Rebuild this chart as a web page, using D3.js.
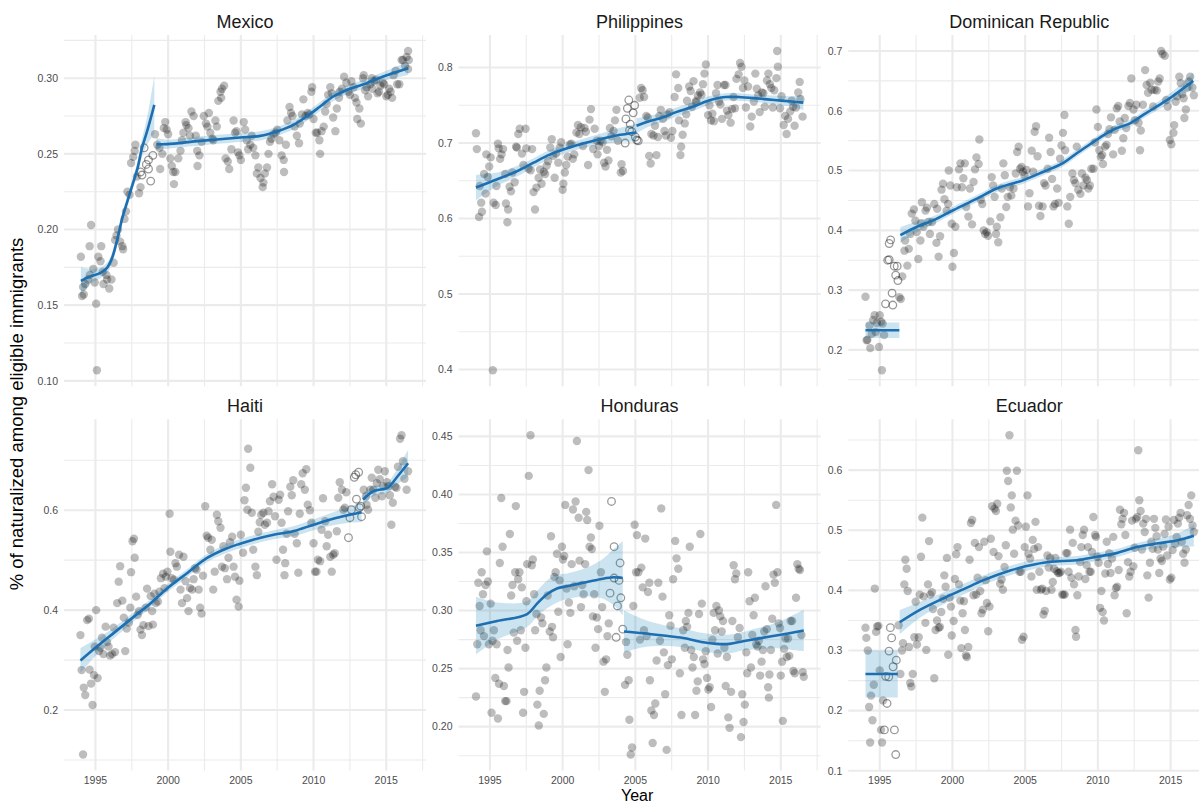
<!DOCTYPE html>
<html>
<head>
<meta charset="utf-8">
<script src="https://cdn.jsdelivr.net/npm/d3@7"></script>
<style>
  body { margin: 0; background: #fff; }
  svg { display: block; }
  text { font-family: "Liberation Sans", Arial, Helvetica, sans-serif; }
</style>
</head>
<body>
<svg id="chart" width="1199" height="804"></svg>
<script>
// ---- data -------------------------------------------------------------
const countries = ["Mexico", "Philippines", "Dominican Republic", "Haiti", "Honduras", "Ecuador"];
const xTicks = [1995, 2000, 2005, 2010, 2015];

const mexicoTicks = [0.10, 0.15, 0.20, 0.25, 0.30];
const philippinesTicks = [0.4, 0.5, 0.6, 0.7, 0.8];
const dominicanTicks = [0.2, 0.3, 0.4, 0.5, 0.6, 0.7];
const haitiTicks = [0.2, 0.4, 0.6];
const hondurasTicks = [0.20, 0.25, 0.30, 0.35, 0.40, 0.45];
const ecuadorTicks = [0.1, 0.2, 0.3, 0.4, 0.5, 0.6];

// [year, share naturalized] — observed
const mexicoPoints = [[1994.0,0.182],[1994.08,0.156],[1994.15,0.162],[1994.2,0.157],[1994.3,0.164],[1994.47,0.167],[1994.6,0.189],[1994.62,0.170],[1994.7,0.203],[1994.85,0.174],[1994.95,0.165],[1995.05,0.151],[1995.1,0.107],[1995.2,0.182],[1995.35,0.179],[1995.4,0.189],[1995.5,0.172],[1995.55,0.164],[1995.75,0.170],[1995.8,0.167],[1995.95,0.161],[1996.1,0.167],[1996.25,0.178],[1996.35,0.193],[1996.45,0.196],[1996.55,0.200],[1996.7,0.192],[1996.85,0.189],[1996.9,0.187],[1997.0,0.207],[1997.1,0.212],[1997.2,0.225],[1997.35,0.223],[1997.45,0.244],[1997.6,0.248],[1997.7,0.252],[1997.75,0.256],[1997.85,0.235],[1998.0,0.224],[1998.1,0.228],
[1999.1,0.263],[1999.25,0.256],[1999.4,0.254],[1999.45,0.240],[1999.6,0.250],[1999.7,0.267],[1999.8,0.271],[1999.9,0.266],[2000.0,0.263],[2000.15,0.247],[2000.25,0.242],[2000.35,0.238],[2000.4,0.230],[2000.5,0.238],[2000.7,0.247],[2000.85,0.252],[2000.95,0.259],[2001.05,0.264],[2001.2,0.271],[2001.25,0.269],[2001.4,0.267],[2001.5,0.262],[2001.6,0.278],[2001.75,0.275],[2001.9,0.262],[2002.0,0.252],[2002.02,0.242],[2002.15,0.249],[2002.3,0.258],[2002.45,0.275],[2002.6,0.270],[2002.7,0.268],[2002.8,0.277],[2002.9,0.264],[2003.05,0.260],[2003.1,0.259],[2003.25,0.272],[2003.35,0.268],[2003.45,0.285],[2003.6,0.291],[2003.65,0.287],[2003.7,0.293],[2003.85,0.295],[2003.95,0.247],[2004.1,0.245],[2004.2,0.240],[2004.35,0.253],[2004.5,0.272],[2004.6,0.264],[2004.7,0.265],[2004.8,0.251],[2004.9,0.249],[2005.0,0.246],[2005.2,0.271],[2005.3,0.266],[2005.4,0.259],[2005.5,0.253],[2005.65,0.256],[2005.75,0.262],[2005.85,0.254],[2006.0,0.249],[2006.1,0.237],[2006.2,0.241],[2006.35,0.234],[2006.5,0.228],[2006.55,0.231],[2006.65,0.237],[2006.8,0.241],[2006.9,0.250],[2007.0,0.258],[2007.1,0.260],[2007.25,0.263],[2007.4,0.264],[2007.5,0.266],[2007.65,0.259],[2007.8,0.249],[2007.95,0.246],[2007.97,0.238],[2008.1,0.256],[2008.2,0.272],[2008.35,0.281],[2008.45,0.277],[2008.55,0.275],[2008.7,0.268],[2008.85,0.262],[2009.0,0.257],[2009.05,0.270],[2009.2,0.276],[2009.3,0.286],[2009.45,0.275],[2009.6,0.277],[2009.7,0.276],[2009.85,0.291],[2009.9,0.294],[2010.0,0.273],[2010.15,0.264],[2010.25,0.264],[2010.4,0.259],[2010.45,0.250],[2010.55,0.265],[2010.7,0.268],[2010.8,0.278],[2010.9,0.283],[2011.0,0.289],[2011.15,0.294],[2011.25,0.290],[2011.35,0.274],[2011.5,0.265],[2011.6,0.280],[2011.75,0.287],[2011.8,0.291],[2011.95,0.293],[2012.1,0.301],[2012.25,0.297],[2012.4,0.291],[2012.5,0.289],[2012.6,0.298],[2012.75,0.294],[2012.85,0.287],[2012.95,0.284],[2013.0,0.273],[2013.15,0.280],[2013.25,0.270],[2013.4,0.300],[2013.45,0.302],[2013.55,0.292],[2013.65,0.294],[2013.75,0.288],[2013.9,0.296],[2014.0,0.300],[2014.05,0.293],[2014.15,0.298],[2014.3,0.299],[2014.4,0.290],[2014.5,0.291],[2014.6,0.295],[2014.75,0.297],[2014.85,0.296],[2015.0,0.288],[2015.1,0.289],[2015.2,0.293],[2015.3,0.291],[2015.4,0.287],[2015.5,0.302],[2015.65,0.305],[2015.75,0.296],[2015.9,0.296],[2016.05,0.312],[2016.15,0.312],[2016.3,0.308],[2016.4,0.314],[2016.5,0.318],[2016.55,0.312],[2016.5,0.306]];
// [year, share] — imputed months
const mexicoOpen = [[1998.1,0.238],[1998.2,0.236],[1998.35,0.254],[1998.5,0.243],[1998.65,0.240],[1998.65,0.246],[1998.8,0.232],[1998.95,0.249]];
// loess fit per period: [year, fit, standard-error band]
const mexicoFit = [
  [[1994.0,0.166,0.009],[1994.65,0.169,0.005],[1995.35,0.1714,0.0035],[1995.8,0.1747,0.0035],[1996.15,0.1813,0.0035],[1996.5,0.1934,0.0035],[1996.85,0.2077,0.0035],[1997.2,0.2187,0.0035],[1997.55,0.2297,0.0035],[1997.9,0.2407,0.0045],[1998.2,0.2539,0.006],[1998.55,0.2648,0.009],[1999.05,0.2824,0.019]],
  [[1999.19,0.2564,0.004],[1999.92,0.2564,0.003],[2002.21,0.2586,0.003],[2004.95,0.2608,0.003],[2006.33,0.2619,0.003],[2007.47,0.2648,0.003],[2008.62,0.2692,0.003],[2009.53,0.2747,0.003],[2010.45,0.2813,0.003],[2011.36,0.2879,0.003],[2012.51,0.293,0.003],[2013.65,0.2967,0.003],[2014.79,0.3011,0.003],[2016.51,0.3066,0.0045]]
];

const philippinesPoints = [[1994.04,0.713],[1994.1,0.692],[1994.25,0.602],[1994.3,0.643],[1994.4,0.621],[1994.45,0.609],[1994.6,0.659],[1994.7,0.633],[1994.75,0.685],[1994.85,0.655],[1994.95,0.669],[1995.05,0.681],[1995.2,0.399],[1995.25,0.621],[1995.4,0.618],[1995.45,0.643],[1995.55,0.699],[1995.6,0.693],[1995.7,0.679],[1995.8,0.685],[1995.9,0.692],[1996.05,0.659],[1996.1,0.620],[1996.2,0.595],[1996.25,0.612],[1996.35,0.642],[1996.45,0.636],[1996.55,0.661],[1996.7,0.648],[1996.8,0.695],[1996.85,0.694],[1996.95,0.712],[1997.05,0.719],[1997.2,0.686],[1997.3,0.671],[1997.45,0.719],[1997.5,0.693],[1997.65,0.666],[1997.8,0.664],[1997.9,0.692],[1998.0,0.635],[1998.1,0.612],[1998.2,0.641],[1998.35,0.654],[1998.45,0.665],[1998.55,0.646],[1998.7,0.662],[1998.8,0.659],[1998.9,0.670],[1999.0,0.676],[1999.15,0.694],[1999.25,0.705],[1999.35,0.683],[1999.45,0.654],[1999.55,0.686],[1999.7,0.674],[1999.8,0.694],[1999.9,0.701],[2000.0,0.638],[2000.05,0.646],[2000.15,0.661],[2000.25,0.671],[2000.35,0.682],[2000.5,0.698],[2000.6,0.699],[2000.7,0.679],[2000.8,0.685],[2000.95,0.714],[2001.05,0.724],[2001.15,0.712],[2001.25,0.721],[2001.4,0.696],[2001.5,0.720],[2001.6,0.715],[2001.75,0.671],[2001.85,0.731],[2001.95,0.745],[2002.1,0.692],[2002.2,0.719],[2002.35,0.703],[2002.4,0.685],[2002.5,0.696],[2002.6,0.703],[2002.75,0.701],[2002.85,0.674],[2002.95,0.669],[2003.05,0.691],[2003.15,0.677],[2003.25,0.720],[2003.35,0.709],[2003.5,0.716],[2003.6,0.730],[2003.7,0.744],[2003.8,0.703],[2004.0,0.661],[2004.05,0.672],[2004.15,0.663],
[2005.3,0.760],[2005.4,0.773],[2005.5,0.770],[2005.6,0.761],[2005.75,0.736],[2005.85,0.734],[2005.95,0.683],[2006.05,0.673],[2006.1,0.712],[2006.25,0.710],[2006.35,0.723],[2006.45,0.684],[2006.55,0.708],[2006.65,0.736],[2006.75,0.744],[2006.9,0.732],[2007.0,0.716],[2007.1,0.710],[2007.2,0.738],[2007.35,0.741],[2007.45,0.707],[2007.55,0.716],[2007.7,0.761],[2007.8,0.791],[2007.95,0.773],[2008.0,0.730],[2008.1,0.684],[2008.15,0.695],[2008.25,0.711],[2008.4,0.726],[2008.5,0.738],[2008.55,0.756],[2008.7,0.775],[2008.8,0.769],[2008.9,0.748],[2009.0,0.782],[2009.15,0.754],[2009.2,0.756],[2009.3,0.763],[2009.45,0.767],[2009.55,0.764],[2009.65,0.778],[2009.75,0.792],[2009.85,0.804],[2010.0,0.737],[2010.1,0.750],[2010.2,0.730],[2010.3,0.739],[2010.4,0.729],[2010.55,0.766],[2010.65,0.777],[2010.75,0.755],[2010.85,0.751],[2010.95,0.732],[2011.1,0.777],[2011.2,0.777],[2011.3,0.743],[2011.4,0.737],[2011.55,0.727],[2011.65,0.745],[2011.75,0.761],[2011.85,0.746],[2011.95,0.785],[2012.1,0.791],[2012.2,0.806],[2012.3,0.801],[2012.4,0.773],[2012.5,0.783],[2012.6,0.747],[2012.75,0.775],[2012.9,0.722],[2013.0,0.735],[2013.15,0.755],[2013.25,0.792],[2013.35,0.772],[2013.45,0.763],[2013.55,0.741],[2013.7,0.767],[2013.8,0.766],[2013.9,0.748],[2014.05,0.783],[2014.15,0.792],[2014.25,0.778],[2014.35,0.773],[2014.45,0.747],[2014.55,0.770],[2014.7,0.786],[2014.75,0.822],[2014.8,0.801],[2014.95,0.746],[2015.05,0.762],[2015.2,0.724],[2015.3,0.736],[2015.4,0.712],[2015.5,0.732],[2015.65,0.742],[2015.75,0.756],[2015.85,0.748],[2015.95,0.723],[2016.05,0.747],[2016.2,0.767],[2016.3,0.781],[2016.35,0.758],[2016.5,0.735]];
const philippinesOpen = [[2004.3,0.700],[2004.35,0.732],[2004.45,0.746],[2004.55,0.757],[2004.6,0.717],[2004.65,0.725],[2004.75,0.715],[2004.85,0.740],[2004.95,0.750],[2005.0,0.708],[2005.1,0.704],[2005.2,0.703]];
const philippinesFit = [
  [[1994.04,0.641,0.017],[1995.5,0.652,0.009],[1997.0,0.664,0.007],[1998.0,0.674,0.006],[1999.15,0.685,0.006],[2000.97,0.697,0.006],[2002.34,0.704,0.007],[2003.71,0.710,0.009],[2005.08,0.714,0.012]],
  [[2005.08,0.723,0.010],[2005.95,0.729,0.007],[2006.9,0.734,0.006],[2007.8,0.741,0.006],[2008.95,0.748,0.006],[2009.85,0.755,0.006],[2010.55,0.759,0.005],[2011.2,0.761,0.005],[2012.1,0.761,0.005],[2013.45,0.759,0.005],[2014.55,0.757,0.006],[2015.75,0.755,0.007],[2016.55,0.7535,0.010]]
];

const dominicanPoints = [[1994.02,0.289],[1994.1,0.216],[1994.15,0.217],[1994.3,0.241],[1994.35,0.203],[1994.45,0.227],[1994.55,0.250],[1994.65,0.258],[1994.72,0.230],[1994.8,0.245],[1994.95,0.205],[1995.0,0.258],[1995.1,0.247],[1995.15,0.166],[1995.2,0.244],[1995.3,0.225],
[1996.35,0.288],[1996.45,0.285],[1996.55,0.323],[1996.7,0.366],[1996.75,0.383],[1996.9,0.341],[1997.0,0.369],[1997.1,0.394],[1997.2,0.428],[1997.35,0.435],[1997.45,0.416],[1997.55,0.397],[1997.65,0.352],[1997.8,0.383],[1997.85,0.412],[1997.9,0.447],[1998.0,0.406],[1998.15,0.433],[1998.25,0.438],[1998.35,0.414],[1998.45,0.394],[1998.6,0.414],[1998.75,0.444],[1998.9,0.379],[1998.95,0.436],[1999.05,0.356],[1999.15,0.390],[1999.25,0.468],[1999.35,0.478],[1999.45,0.452],[1999.6,0.433],[1999.7,0.444],[1999.75,0.500],[1999.85,0.475],[1999.95,0.411],[2000.0,0.339],[2000.1,0.362],[2000.2,0.406],[2000.3,0.472],[2000.45,0.502],[2000.55,0.512],[2000.65,0.472],[2000.75,0.487],[2000.85,0.512],[2000.95,0.439],[2001.1,0.423],[2001.2,0.470],[2001.35,0.410],[2001.45,0.481],[2001.55,0.502],[2001.65,0.522],[2001.8,0.511],[2001.85,0.552],[2001.95,0.451],[2002.05,0.444],[2002.15,0.400],[2002.25,0.394],[2002.35,0.397],[2002.45,0.391],[2002.6,0.415],[2002.7,0.489],[2002.8,0.475],[2002.9,0.456],[2003.0,0.394],[2003.05,0.406],[2003.15,0.380],[2003.3,0.422],[2003.4,0.470],[2003.5,0.512],[2003.6,0.492],[2003.7,0.439],[2003.8,0.456],[2003.95,0.472],[2004.05,0.458],[2004.2,0.470],[2004.35,0.495],[2004.45,0.531],[2004.55,0.540],[2004.65,0.503],[2004.75,0.506],[2004.85,0.498],[2004.95,0.492],[2005.1,0.501],[2005.2,0.440],[2005.3,0.462],[2005.45,0.533],[2005.55,0.498],[2005.65,0.565],[2005.75,0.574],[2005.85,0.524],[2005.95,0.441],[2006.05,0.424],[2006.2,0.440],[2006.3,0.479],[2006.4,0.475],[2006.55,0.503],[2006.65,0.555],[2006.75,0.531],[2006.85,0.486],[2006.95,0.440],[2007.05,0.444],[2007.2,0.470],[2007.3,0.446],[2007.4,0.520],[2007.5,0.542],[2007.6,0.563],[2007.7,0.593],[2007.75,0.534],[2007.9,0.440],[2008.0,0.411],[2008.1,0.456],[2008.25,0.495],[2008.35,0.484],[2008.45,0.479],[2008.55,0.540],[2008.65,0.468],[2008.8,0.461],[2008.9,0.495],[2009.0,0.475],[2009.15,0.488],[2009.25,0.484],[2009.35,0.470],[2009.45,0.475],[2009.55,0.503],[2009.7,0.503],[2009.8,0.547],[2009.9,0.602],[2010.0,0.573],[2010.1,0.534],[2010.2,0.523],[2010.3,0.526],[2010.35,0.511],[2010.5,0.540],[2010.6,0.543],[2010.7,0.561],[2010.8,0.569],[2010.9,0.589],[2011.05,0.527],[2011.15,0.568],[2011.3,0.604],[2011.4,0.608],[2011.5,0.582],[2011.65,0.533],[2011.75,0.554],[2011.85,0.588],[2011.95,0.571],[2012.1,0.608],[2012.2,0.613],[2012.3,0.654],[2012.45,0.602],[2012.55,0.584],[2012.65,0.610],[2012.8,0.580],[2012.9,0.534],[2012.95,0.567],[2013.1,0.610],[2013.25,0.668],[2013.35,0.643],[2013.45,0.630],[2013.6,0.647],[2013.7,0.635],[2013.8,0.607],[2013.9,0.635],[2014.05,0.634],[2014.15,0.649],[2014.25,0.654],[2014.35,0.700],[2014.45,0.695],[2014.6,0.692],[2014.7,0.618],[2014.8,0.607],[2014.95,0.551],[2015.05,0.544],[2015.2,0.563],[2015.25,0.576],[2015.35,0.615],[2015.45,0.624],[2015.6,0.657],[2015.7,0.646],[2015.8,0.628],[2015.9,0.621],[2015.95,0.588],[2016.05,0.602],[2016.15,0.639],[2016.25,0.649],[2016.35,0.657],[2016.5,0.639],[2016.6,0.626]];
const dominicanOpen = [[1995.4,0.277],[1995.55,0.350],[1995.65,0.351],[1995.65,0.378],[1995.75,0.384],[1995.85,0.295],[1995.9,0.275],[1996.0,0.340],[1996.1,0.325],[1996.2,0.340],[1996.25,0.316]];
const dominicanFit = [
  [[1994.02,0.233,0.013],[1996.35,0.233,0.013]],
  [[1996.42,0.392,0.013],[1997.56,0.406,0.009],[1998.71,0.417,0.007],[2000.08,0.434,0.006],[2001.68,0.453,0.006],[2003.05,0.470,0.006],[2004.89,0.484,0.006],[2006.26,0.498,0.006],[2007.63,0.513,0.006],[2008.55,0.529,0.006],[2009.46,0.544,0.006],[2010.38,0.559,0.006],[2011.29,0.571,0.006],[2012.21,0.579,0.006],[2013.12,0.593,0.006],[2014.04,0.607,0.007],[2014.95,0.621,0.008],[2015.87,0.6375,0.010],[2016.56,0.650,0.014]]
];

const haitiPoints = [[1993.97,0.350],[1994.05,0.280],[1994.15,0.111],[1994.2,0.245],[1994.3,0.230],[1994.43,0.380],[1994.55,0.383],[1994.6,0.281],[1994.7,0.253],[1994.8,0.210],[1994.9,0.270],[1994.95,0.327],[1995.05,0.400],[1995.15,0.264],[1995.25,0.318],[1995.35,0.325],[1995.45,0.345],[1995.55,0.312],[1995.7,0.367],[1995.8,0.336],[1995.9,0.327],[1996.0,0.309],[1996.15,0.312],[1996.25,0.365],[1996.35,0.316],[1996.5,0.414],[1996.6,0.457],[1996.7,0.488],[1996.85,0.419],[1996.95,0.385],[1997.05,0.318],[1997.15,0.363],[1997.3,0.375],[1997.4,0.405],[1997.45,0.476],[1997.55,0.538],[1997.65,0.543],[1997.7,0.505],[1997.8,0.427],[1997.9,0.390],[1998.0,0.398],[1998.1,0.361],[1998.2,0.350],[1998.3,0.370],[1998.45,0.405],[1998.55,0.443],[1998.65,0.368],[1998.8,0.428],[1998.9,0.398],[1998.95,0.371],[1999.05,0.433],[1999.15,0.414],[1999.3,0.417],[1999.4,0.437],[1999.5,0.464],[1999.65,0.473],[1999.75,0.444],[1999.85,0.467],[1999.95,0.477],[2000.1,0.593],[2000.15,0.517],[2000.25,0.464],[2000.4,0.461],[2000.5,0.494],[2000.6,0.487],[2000.75,0.511],[2000.85,0.441],[2000.95,0.414],[2001.05,0.507],[2001.2,0.458],[2001.3,0.424],[2001.4,0.398],[2001.5,0.444],[2001.65,0.441],[2001.75,0.462],[2001.85,0.484],[2001.95,0.481],[2002.1,0.441],[2002.2,0.405],[2002.3,0.393],[2002.4,0.469],[2002.55,0.608],[2002.65,0.549],[2002.75,0.545],[2002.9,0.521],[2003.0,0.541],[2003.1,0.441],[2003.2,0.477],[2003.35,0.591],[2003.45,0.578],[2003.6,0.565],[2003.7,0.487],[2003.8,0.528],[2003.9,0.484],[2004.05,0.462],[2004.15,0.505],[2004.25,0.536],[2004.4,0.547],[2004.5,0.487],[2004.6,0.467],[2004.7,0.421],[2004.85,0.407],[2004.9,0.459],[2005.0,0.551],[2005.15,0.515],[2005.25,0.620],[2005.35,0.645],[2005.45,0.601],[2005.5,0.723],[2005.65,0.685],[2005.75,0.595],[2005.85,0.521],[2006.0,0.487],[2006.1,0.470],[2006.2,0.557],[2006.3,0.576],[2006.4,0.591],[2006.55,0.595],[2006.65,0.571],[2006.8,0.575],[2006.9,0.598],[2007.0,0.618],[2007.15,0.652],[2007.25,0.627],[2007.35,0.588],[2007.45,0.501],[2007.6,0.621],[2007.7,0.631],[2007.8,0.575],[2007.9,0.521],[2008.0,0.470],[2008.05,0.494],[2008.15,0.553],[2008.25,0.598],[2008.4,0.647],[2008.5,0.630],[2008.6,0.660],[2008.7,0.553],[2008.85,0.534],[2008.95,0.475],[2009.05,0.593],[2009.15,0.652],[2009.25,0.674],[2009.4,0.641],[2009.5,0.682],[2009.6,0.611],[2009.75,0.600],[2009.85,0.575],[2010.0,0.534],[2010.1,0.477],[2010.2,0.477],[2010.3,0.501],[2010.45,0.498],[2010.55,0.561],[2010.65,0.624],[2010.8,0.578],[2010.9,0.528],[2011.0,0.551],[2011.15,0.507],[2011.25,0.477],[2011.35,0.511],[2011.45,0.514],[2011.6,0.558],[2011.7,0.625],[2011.8,0.656],[2011.95,0.641],[2012.05,0.601],[2012.15,0.605],[2012.25,0.636],
[2013.45,0.641],[2013.6,0.628],[2013.65,0.611],[2013.75,0.601],[2013.9,0.641],[2014.0,0.665],[2014.1,0.641],[2014.25,0.625],[2014.35,0.654],[2014.45,0.681],[2014.55,0.662],[2014.7,0.628],[2014.8,0.648],[2014.9,0.678],[2015.05,0.656],[2015.15,0.648],[2015.25,0.630],[2015.35,0.571],[2015.45,0.615],[2015.6,0.647],[2015.7,0.645],[2015.8,0.687],[2015.95,0.743],[2016.05,0.750],[2016.15,0.698],[2016.25,0.663],[2016.4,0.641],[2016.5,0.678]];
const haitiOpen = [[2012.4,0.545],[2012.5,0.585],[2012.6,0.601],[2012.8,0.666],[2012.9,0.671],[2012.95,0.622],[2013.1,0.676],[2013.15,0.605],[2013.25,0.608],[2013.3,0.587]];
const haitiFit = [
  [[1993.97,0.299,0.025],[1995.1,0.327,0.016],[1996.25,0.354,0.011],[1997.65,0.387,0.009],[1998.8,0.414,0.008],[1999.95,0.444,0.008],[2001.3,0.474,0.008],[2002.65,0.504,0.008],[2004.05,0.524,0.009],[2004.95,0.533,0.009],[2005.85,0.541,0.009],[2007.25,0.551,0.009],[2008.6,0.558,0.010],[2010.0,0.571,0.011],[2011.35,0.583,0.013],[2012.5,0.591,0.016],[2013.3,0.596,0.020]],
  [[2013.4,0.621,0.012],[2014.1,0.638,0.010],[2014.9,0.643,0.010],[2015.15,0.646,0.011],[2015.7,0.665,0.015],[2016.5,0.694,0.027]]
];

const hondurasPoints = [[1994.04,0.226],[1994.13,0.271],[1994.2,0.324],[1994.29,0.304],[1994.36,0.283],[1994.43,0.333],[1994.52,0.314],[1994.59,0.278],[1994.7,0.322],[1994.79,0.351],[1994.86,0.325],[1994.93,0.271],[1995.05,0.306],[1995.11,0.212],[1995.18,0.274],[1995.27,0.283],[1995.37,0.242],[1995.46,0.271],[1995.55,0.207],[1995.62,0.237],[1995.68,0.341],[1995.78,0.397],[1995.87,0.355],[1995.96,0.235],[1996.05,0.222],[1996.14,0.222],[1996.21,0.266],[1996.28,0.251],[1996.37,0.366],[1996.46,0.313],[1996.55,0.322],[1996.64,0.281],[1996.74,0.333],[1996.78,0.390],[1996.87,0.274],[1996.94,0.327],[1997.03,0.333],[1997.12,0.283],[1997.19,0.320],[1997.28,0.212],[1997.35,0.230],[1997.44,0.268],[1997.51,0.308],[1997.56,0.340],[1997.67,0.416],[1997.79,0.451],[1997.88,0.339],[1997.95,0.344],[1998.04,0.314],[1998.11,0.283],[1998.2,0.297],[1998.26,0.219],[1998.36,0.201],[1998.42,0.231],[1998.52,0.294],[1998.61,0.289],[1998.7,0.211],[1998.79,0.240],[1998.88,0.251],[1998.97,0.313],[1999.11,0.282],[1999.2,0.364],[1999.27,0.286],[1999.34,0.277],[1999.43,0.329],[1999.52,0.333],[1999.61,0.349],[1999.7,0.299],[1999.79,0.326],[1999.86,0.260],[1999.95,0.355],[2000.02,0.344],[2000.11,0.347],[2000.18,0.391],[2000.27,0.319],[2000.34,0.271],[2000.43,0.307],[2000.53,0.298],[2000.62,0.340],[2000.71,0.387],[2000.8,0.321],[2000.89,0.394],[2000.98,0.446],[2001.1,0.380],[2001.16,0.343],[2001.26,0.303],[2001.35,0.322],[2001.44,0.314],[2001.55,0.340],[2001.62,0.385],[2001.69,0.378],[2001.78,0.421],[2001.85,0.355],[2001.94,0.363],[2002.01,0.353],[2002.08,0.295],[2002.17,0.314],[2002.26,0.268],[2002.35,0.294],[2002.44,0.284],[2002.53,0.373],[2002.63,0.333],[2002.72,0.303],[2002.81,0.256],[2002.9,0.230],[2002.99,0.258],[2003.08,0.278],[2003.17,0.289],
[2004.29,0.236],[2004.36,0.273],[2004.45,0.262],[2004.54,0.240],[2004.59,0.206],[2004.68,0.176],[2004.77,0.182],[2004.86,0.304],[2004.95,0.374],[2005.05,0.333],[2005.11,0.365],[2005.21,0.333],[2005.32,0.275],[2005.41,0.337],[2005.5,0.320],[2005.59,0.283],[2005.68,0.362],[2005.78,0.278],[2005.87,0.316],[2005.96,0.324],[2006.0,0.240],[2006.1,0.214],[2006.19,0.186],[2006.28,0.210],[2006.37,0.220],[2006.46,0.257],[2006.58,0.324],[2006.69,0.274],[2006.78,0.388],[2006.87,0.312],[2006.96,0.264],[2007.05,0.228],[2007.15,0.180],[2007.24,0.253],[2007.33,0.296],[2007.42,0.287],[2007.51,0.258],[2007.6,0.327],[2007.74,0.360],[2007.83,0.345],[2007.95,0.336],[2008.06,0.246],[2008.17,0.210],[2008.29,0.283],[2008.4,0.268],[2008.47,0.291],[2008.56,0.286],[2008.65,0.298],[2008.74,0.355],[2008.84,0.266],[2008.93,0.251],[2009.02,0.260],[2009.11,0.210],[2009.2,0.231],[2009.29,0.239],[2009.38,0.297],[2009.47,0.366],[2009.57,0.306],[2009.66,0.258],[2009.75,0.254],[2009.84,0.265],[2009.93,0.242],[2010.02,0.232],[2010.11,0.234],[2010.21,0.217],[2010.3,0.275],[2010.39,0.298],[2010.48,0.283],[2010.57,0.304],[2010.66,0.263],[2010.75,0.300],[2010.84,0.295],[2010.94,0.282],[2011.03,0.291],[2011.12,0.268],[2011.21,0.235],[2011.3,0.260],[2011.39,0.208],[2011.48,0.199],[2011.58,0.230],[2011.67,0.291],[2011.76,0.339],[2011.85,0.327],[2011.94,0.332],[2012.05,0.277],[2012.17,0.285],[2012.26,0.191],[2012.35,0.228],[2012.44,0.204],[2012.53,0.219],[2012.63,0.264],[2012.69,0.246],[2012.76,0.333],[2012.85,0.308],[2012.95,0.251],[2013.04,0.279],[2013.13,0.296],[2013.22,0.311],[2013.31,0.271],[2013.4,0.269],[2013.49,0.274],[2013.58,0.244],[2013.68,0.256],[2013.77,0.266],[2013.86,0.282],[2013.95,0.321],[2014.04,0.284],[2014.13,0.234],[2014.18,0.225],[2014.22,0.245],[2014.32,0.266],[2014.41,0.293],[2014.5,0.331],[2014.59,0.324],[2014.68,0.391],[2014.77,0.333],[2014.86,0.289],[2014.95,0.285],[2015.0,0.244],[2015.09,0.256],[2015.14,0.205],[2015.23,0.267],[2015.32,0.276],[2015.41,0.260],[2015.5,0.276],[2015.59,0.261],[2015.68,0.291],[2015.78,0.291],[2015.87,0.248],[2015.96,0.246],[2016.05,0.311],[2016.14,0.340],[2016.23,0.336],[2016.32,0.335],[2016.42,0.279],[2016.51,0.247],[2016.58,0.243]];
const hondurasOpen = [[2003.26,0.315],[2003.36,0.394],[2003.54,0.355],[2003.54,0.328],[2003.68,0.277],[2003.77,0.304],[2003.88,0.326],[2003.95,0.341],[2004.0,0.311],[2004.13,0.284]];
const hondurasFit = [
  [[1994.04,0.287,0.025],[1995.5,0.291,0.016],[1997.56,0.297,0.011],[1998.24,0.306,0.011],[1998.93,0.314,0.012],[1999.61,0.319,0.012],[2000.3,0.321,0.011],[2001.44,0.324,0.012],[2002.58,0.327,0.016],[2003.49,0.3287,0.024],[2004.13,0.328,0.032]],
  [[2004.22,0.282,0.018],[2005.55,0.2805,0.012],[2006.92,0.2785,0.009],[2008.29,0.2764,0.008],[2009.66,0.2727,0.008],[2010.57,0.2713,0.008],[2011.48,0.2713,0.008],[2012.4,0.2736,0.008],[2013.31,0.2756,0.009],[2014.68,0.2785,0.011],[2016.58,0.2828,0.018]]
];

const ecuadorPoints = [[1994.02,0.338],[1994.08,0.321],[1994.18,0.300],[1994.27,0.206],[1994.34,0.147],[1994.4,0.225],[1994.5,0.184],[1994.59,0.243],[1994.66,0.403],[1994.75,0.331],[1994.82,0.340],[1994.91,0.341],[1995.0,0.267],[1995.09,0.168],[1995.16,0.147],[1995.23,0.217],
[1996.3,0.342],[1996.42,0.261],[1996.53,0.300],[1996.6,0.312],[1996.69,0.410],[1996.76,0.451],[1996.85,0.436],[1996.92,0.399],[1997.01,0.306],[1997.1,0.246],[1997.17,0.240],[1997.27,0.261],[1997.38,0.322],[1997.47,0.381],[1997.56,0.310],[1997.68,0.322],[1997.75,0.393],[1997.84,0.456],[1997.93,0.521],[1998.02,0.390],[1998.14,0.346],[1998.2,0.301],[1998.32,0.410],[1998.39,0.482],[1998.48,0.393],[1998.59,0.397],[1998.66,0.369],[1998.75,0.254],[1998.84,0.334],[1998.94,0.350],[1999.05,0.338],[1999.14,0.339],[1999.23,0.364],[1999.35,0.386],[1999.44,0.425],[1999.53,0.406],[1999.62,0.454],[1999.71,0.293],[1999.8,0.388],[1999.9,0.373],[1999.95,0.325],[2000.08,0.349],[2000.17,0.419],[2000.26,0.460],[2000.35,0.472],[2000.45,0.410],[2000.54,0.383],[2000.61,0.304],[2000.7,0.362],[2000.79,0.382],[2000.86,0.334],[2000.93,0.292],[2000.99,0.289],[2001.09,0.306],[2001.18,0.451],[2001.27,0.512],[2001.36,0.517],[2001.45,0.392],[2001.54,0.479],[2001.64,0.393],[2001.73,0.421],[2001.82,0.472],[2001.91,0.399],[2002.0,0.362],[2002.09,0.368],[2002.19,0.481],[2002.28,0.417],[2002.37,0.379],[2002.46,0.332],[2002.55,0.373],[2002.64,0.486],[2002.73,0.540],[2002.83,0.464],[2002.89,0.536],[2002.99,0.532],[2003.08,0.544],[2003.17,0.457],[2003.28,0.411],[2003.38,0.418],[2003.47,0.401],[2003.58,0.439],[2003.67,0.475],[2003.74,0.599],[2003.83,0.582],[2003.92,0.658],[2004.01,0.538],[2004.08,0.558],[2004.15,0.501],[2004.24,0.461],[2004.34,0.516],[2004.43,0.599],[2004.52,0.508],[2004.61,0.431],[2004.7,0.431],[2004.78,0.318],[2004.89,0.323],[2004.97,0.472],[2005.05,0.506],[2005.16,0.558],[2005.23,0.461],[2005.34,0.453],[2005.43,0.423],[2005.52,0.484],[2005.62,0.469],[2005.71,0.514],[2005.8,0.401],[2005.89,0.472],[2005.98,0.431],[2006.08,0.401],[2006.17,0.403],[2006.26,0.360],[2006.35,0.366],[2006.44,0.399],[2006.53,0.458],[2006.62,0.438],[2006.72,0.454],[2006.81,0.401],[2006.9,0.414],[2006.99,0.436],[2007.08,0.454],[2007.17,0.432],[2007.27,0.429],[2007.36,0.429],[2007.45,0.431],[2007.54,0.393],[2007.63,0.393],[2007.72,0.393],[2007.81,0.462],[2007.91,0.462],[2007.99,0.431],[2008.09,0.501],[2008.18,0.421],[2008.27,0.479],[2008.36,0.410],[2008.46,0.334],[2008.5,0.323],[2008.59,0.392],[2008.68,0.423],[2008.78,0.447],[2008.86,0.472],[2008.96,0.492],[2009.05,0.501],[2009.14,0.419],[2009.23,0.442],[2009.32,0.472],[2009.42,0.431],[2009.51,0.431],[2009.6,0.464],[2009.69,0.522],[2009.81,0.492],[2009.87,0.489],[2009.97,0.456],[2010.05,0.446],[2010.15,0.371],[2010.24,0.399],[2010.33,0.364],[2010.42,0.350],[2010.51,0.428],[2010.61,0.481],[2010.69,0.444],[2010.78,0.462],[2010.87,0.429],[2010.97,0.453],[2011.06,0.489],[2011.15,0.392],[2011.24,0.404],[2011.33,0.406],[2011.43,0.434],[2011.52,0.534],[2011.61,0.510],[2011.7,0.519],[2011.8,0.529],[2011.89,0.492],[2011.98,0.362],[2012.07,0.447],[2012.16,0.423],[2012.25,0.431],[2012.35,0.516],[2012.44,0.440],[2012.53,0.471],[2012.62,0.519],[2012.71,0.522],[2012.78,0.633],[2012.85,0.550],[2012.94,0.532],[2013.03,0.468],[2013.12,0.511],[2013.22,0.497],[2013.31,0.519],[2013.4,0.425],[2013.49,0.388],[2013.58,0.446],[2013.68,0.481],[2013.77,0.469],[2013.86,0.519],[2013.95,0.504],[2014.04,0.490],[2014.13,0.468],[2014.22,0.429],[2014.31,0.453],[2014.4,0.449],[2014.5,0.473],[2014.59,0.494],[2014.68,0.518],[2014.77,0.458],[2014.86,0.506],[2014.95,0.418],[2015.05,0.421],[2015.14,0.467],[2015.23,0.517],[2015.32,0.477],[2015.41,0.489],[2015.5,0.511],[2015.59,0.521],[2015.69,0.529],[2015.77,0.481],[2015.87,0.461],[2015.96,0.446],[2016.05,0.468],[2016.14,0.525],[2016.24,0.542],[2016.33,0.519],[2016.42,0.558],[2016.51,0.508],[2016.6,0.497]];
const ecuadorOpen = [[1995.32,0.168],[1995.41,0.257],[1995.5,0.212],[1995.62,0.256],[1995.64,0.299],[1995.73,0.338],[1995.82,0.321],[1995.92,0.273],[1996.01,0.168],[1996.1,0.127],[1996.14,0.284]];
const ecuadorFit = [
  [[1994.02,0.261,0.039],[1996.24,0.261,0.039]],
  [[1996.37,0.347,0.020],[1997.79,0.368,0.013],[1999.39,0.387,0.010],[2000.77,0.402,0.009],[2002.14,0.417,0.008],[2003.97,0.433,0.008],[2005.02,0.440,0.008],[2006.26,0.446,0.007],[2007.63,0.449,0.007],[2008.55,0.450,0.007],[2009.92,0.456,0.007],[2011.29,0.462,0.007],[2012.67,0.472,0.007],[2014.04,0.478,0.008],[2015.41,0.483,0.011],[2016.6,0.491,0.018]]
];

// ---- assemble panels ---------------------------------------------------
const panels = [
  { name: countries[0], points: mexicoPoints, open: mexicoOpen, fit: mexicoFit, ticks: mexicoTicks },
  { name: countries[1], points: philippinesPoints, open: philippinesOpen, fit: philippinesFit, ticks: philippinesTicks },
  { name: countries[2], points: dominicanPoints, open: dominicanOpen, fit: dominicanFit, ticks: dominicanTicks },
  { name: countries[3], points: haitiPoints, open: haitiOpen, fit: haitiFit, ticks: haitiTicks },
  { name: countries[4], points: hondurasPoints, open: hondurasOpen, fit: hondurasFit, ticks: hondurasTicks },
  { name: countries[5], points: ecuadorPoints, open: ecuadorOpen, fit: ecuadorFit, ticks: ecuadorTicks }
];

// ---- layout -------------------------------------------------------------
const colLeft = [64, 458.5, 848.3];
const rowTop = [35, 419.3];
const panelW = 362, panelH = 351.2;
const gridColor = "#ebebeb";
const lineColor = "#1d6fb1";
const bandColor = "#0072b2";

const svg = d3.select("#chart");
svg.append("rect").attr("width", 1199).attr("height", 804).attr("fill", "#fff");

// shared x scale, data range padded by 5% on either side
const allYears = panels.flatMap(p => p.points.concat(p.open).map(d => d[0]));
const [xa, xb] = d3.extent(allYears);
const xPad = (xb - xa) * 0.05;
const x = d3.scaleLinear().domain([xa - xPad, xb + xPad]).range([0, panelW]);
const xStep = xTicks[1] - xTicks[0];
const xMinor = [xTicks[0] - xStep / 2].concat(xTicks.map(t => t + xStep / 2))
  .filter(v => v >= x.domain()[0] && v <= x.domain()[1]);

function decimals(v) {
  const s = String(+v.toFixed(6));
  const i = s.indexOf(".");
  return i < 0 ? 0 : s.length - i - 1;
}

panels.forEach((p, i) => {
  const col = i % 3, row = Math.floor(i / 3);
  const g = svg.append("g").attr("transform", `translate(${colLeft[col]},${rowTop[row]})`);

  const ys = p.points.concat(p.open).map(d => d[1])
    .concat(p.fit.flat().flatMap(d => [d[1] - d[2], d[1] + d[2]]));
  const [ya, yb] = d3.extent(ys);
  const yPad = (yb - ya) * 0.05;
  const y = d3.scaleLinear().domain([ya - yPad, yb + yPad]).range([panelH, 0]);

  const step = p.ticks[1] - p.ticks[0];
  const yMinor = [p.ticks[0] - step / 2].concat(p.ticks.map(t => t + step / 2))
    .filter(v => v >= y.domain()[0] && v <= y.domain()[1]);

  // grid: minor first, then major
  g.selectAll(".hmin").data(yMinor).join("line")
    .attr("x1", 0).attr("x2", panelW).attr("y1", d => y(d)).attr("y2", d => y(d))
    .attr("stroke", gridColor).attr("stroke-width", 1.1);
  g.selectAll(".vmin").data(xMinor).join("line")
    .attr("y1", 0).attr("y2", panelH).attr("x1", d => x(d)).attr("x2", d => x(d))
    .attr("stroke", gridColor).attr("stroke-width", 1.1);
  g.selectAll(".hmaj").data(p.ticks).join("line")
    .attr("x1", 0).attr("x2", panelW).attr("y1", d => y(d)).attr("y2", d => y(d))
    .attr("stroke", gridColor).attr("stroke-width", 2.1);
  g.selectAll(".vmaj").data(xTicks).join("line")
    .attr("y1", 0).attr("y2", panelH).attr("x1", d => x(d)).attr("x2", d => x(d))
    .attr("stroke", gridColor).attr("stroke-width", 2.1);

  // observed months
  g.append("g").selectAll("circle").data(p.points).join("circle")
    .attr("cx", d => x(d[0])).attr("cy", d => y(d[1])).attr("r", 4.2)
    .attr("fill", "#000").attr("fill-opacity", 0.26);

  // imputed months
  g.append("g").selectAll("circle").data(p.open).join("circle")
    .attr("cx", d => x(d[0])).attr("cy", d => y(d[1])).attr("r", 3.8)
    .attr("fill", "none").attr("stroke", "#000").attr("stroke-opacity", 0.4).attr("stroke-width", 1.3);

  // smoothed trend with confidence band, one per period
  const band = d3.area().x(d => x(d[0])).y0(d => y(d[1] - d[2])).y1(d => y(d[1] + d[2]))
    .curve(d3.curveCatmullRom.alpha(0.5));
  const trend = d3.line().x(d => x(d[0])).y(d => y(d[1])).curve(d3.curveCatmullRom.alpha(0.5));
  p.fit.forEach(seg => {
    g.append("path").attr("d", band(seg)).attr("fill", bandColor).attr("fill-opacity", 0.2);
  });
  p.fit.forEach(seg => {
    g.append("path").attr("d", trend(seg)).attr("fill", "none")
      .attr("stroke", lineColor).attr("stroke-width", 2.6).attr("stroke-linecap", "butt");
  });

  // y tick labels
  const digits = d3.max(p.ticks, decimals);
  const fmt = d3.format(`.${digits}f`);
  g.selectAll(".ylab").data(p.ticks).join("text")
    .attr("x", -6).attr("y", d => y(d)).attr("dy", "0.36em")
    .attr("text-anchor", "end").attr("font-size", 10.5).attr("fill", "#4d4d4d")
    .text(d => fmt(d));

  // x tick labels on the bottom row only
  if (row === 1) {
    g.selectAll(".xlab").data(xTicks).join("text")
      .attr("x", d => x(d)).attr("y", panelH + 13.5)
      .attr("text-anchor", "middle").attr("font-size", 10.5).attr("fill", "#4d4d4d")
      .text(d => d);
  }

  // strip title
  g.append("text").attr("x", panelW / 2).attr("y", -7)
    .attr("text-anchor", "middle").attr("font-size", 18).attr("fill", "#1a1a1a")
    .text(p.name);
});

// axis titles
svg.append("text")
  .attr("x", (colLeft[0] + colLeft[2] + panelW) / 2).attr("y", 800.5)
  .attr("text-anchor", "middle").attr("font-size", 16).attr("fill", "#000")
  .text("Year");
svg.append("text")
  .attr("transform", "translate(23,414) rotate(-90)")
  .attr("text-anchor", "middle").attr("font-size", 18.5).attr("fill", "#000")
  .text("% of naturalized among eligible immigrants");
</script>
</body>
</html>
